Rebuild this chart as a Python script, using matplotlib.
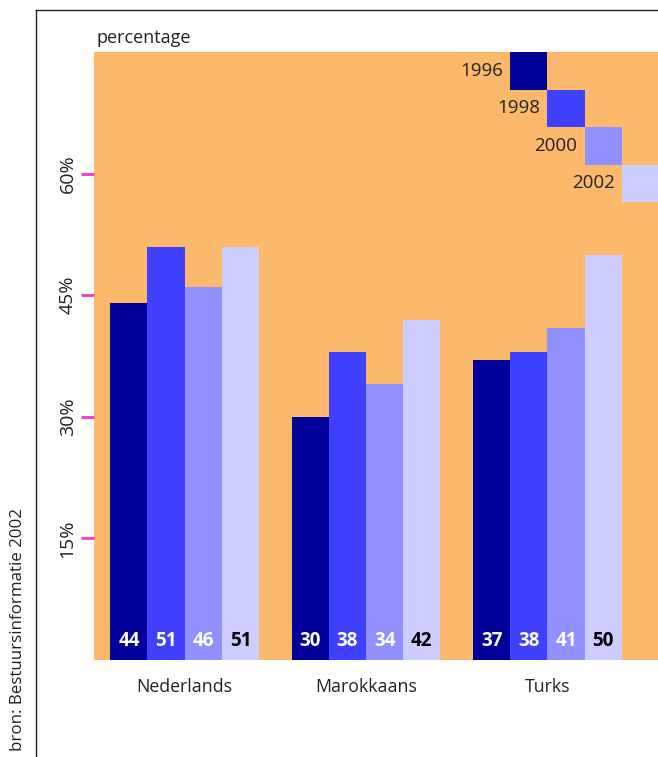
import numpy as np
import matplotlib.pyplot as plt
from matplotlib.lines import Line2D

plt.rcParams['font.family'] = ['Open Sans', 'DejaVu Sans']

groups = ['Nederlands', 'Marokkaans', 'Turks']
years = ['1996', '1998', '2000', '2002']
values = [
    [44, 30, 37],   # 1996
    [51, 38, 38],   # 1998
    [46, 34, 41],   # 2000
    [51, 42, 50],   # 2002
]
colors = ['#000099', '#4040ff', '#9090ff', '#ccccff']
label_colors = ['white', 'white', 'white', 'black']
yticks = [15, 30, 45, 60]
ytick_labels = ['15%', '30%', '45%', '60%']

orange = '#fdb96b'
text_col = '#222222'

fig = plt.figure(figsize=(6.58, 7.57), dpi=100)
ax = fig.add_axes([94 / 658, 1 - 660 / 757, 1 - 94 / 658, (660 - 52) / 757])
ax.set_facecolor(orange)

x = np.arange(len(groups))
w = 0.205
offsets = (np.arange(4) - 1.5) * w

for i in range(4):
    ax.bar(x + offsets[i], values[i], width=w, color=colors[i], linewidth=0)
    for j, v in enumerate(values[i]):
        ax.text(x[j] + offsets[i], 2.3, str(v), ha='center', va='center',
                color=label_colors[i], fontsize=13.5, fontweight='bold')

# legend as staircase of squares
sq = 4.63
for i in range(4):
    lx = x[2] + offsets[0] + (i + 1) * w
    top = 75 - i * sq
    ax.bar(lx, sq, bottom=top - sq, width=w, color=colors[i], linewidth=0)
    ax.text(lx - w / 2 - 0.04, top - sq / 2, years[i], ha='right', va='center',
            fontsize=13.5, color=text_col)

ax.set_xlim(-0.5, 2.61)
ax.set_ylim(0, 75)
for s in ax.spines.values():
    s.set_visible(False)

ax.set_yticks(yticks)
ax.set_yticklabels(ytick_labels, rotation=90, va='center', fontsize=14, color=text_col)
ax.tick_params(axis='y', color='#ff33cc', length=9.5, width=2, pad=3)
ax.set_xticks(x)
ax.set_xticklabels(groups, fontsize=12.8, color=text_col)
ax.tick_params(axis='x', length=0, pad=13)

fig.text(96 / 658, 1 - 38 / 757, 'percentage', ha='left', va='center',
         fontsize=13, color=text_col)
fig.text(18 / 658, 1 - 508 / 757, 'bron: Bestuursinformatie 2002', rotation=90,
         ha='center', va='top', fontsize=12.2, color=text_col)

# frame lines
fig.add_artist(Line2D([36 / 658, 36 / 658], [0, 1 - 10 / 757], color='#222222', lw=1))
fig.add_artist(Line2D([36 / 658, 1], [1 - 10 / 757, 1 - 10 / 757], color='#222222', lw=1))

fig.savefig('out.png', dpi=100)
